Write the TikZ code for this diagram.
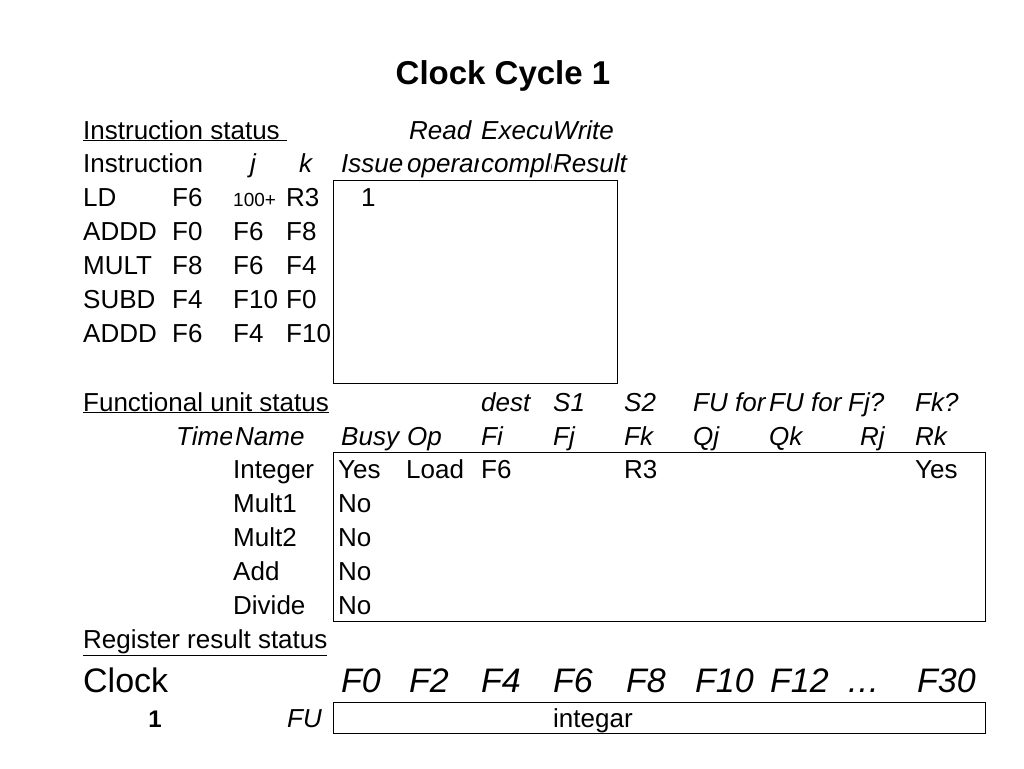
\documentclass[tikz,border=0pt]{standalone}
\usepackage{fontspec}
\setmainfont{Liberation Sans}
\begin{document}
\begin{tikzpicture}[x=1pt,y=-1pt,
  t/.style={anchor=base west,inner sep=0pt,font=\fontsize{26}{30}\selectfont},
  ti/.style={t,font=\fontsize{26}{30}\selectfont\itshape},
  big/.style={anchor=base west,inner sep=0pt,font=\fontsize{34}{40}\selectfont},
  bigi/.style={big,font=\fontsize{34}{40}\selectfont\itshape},
  box/.style={draw,line width=0.8pt}]
\useasboundingbox (0,0) rectangle (1024,768);
\node[inner sep=0pt,font=\fontsize{33}{38}\selectfont\bfseries] (title) at (503,76) {Clock Cycle 1};
% instruction status
\node[t] (is) at (83,139) {\underline{Instruction status\ }};
\node[ti] (rd) at (409,139) {Read};
\begin{scope}\clip (478,110) rectangle (551,180);
\node[ti] (ex) at (481,139) {Execution};
\node[ti] (cp) at (481,172) {complete};
\end{scope}
\node[ti] (wr) at (553,139) {Write};
\node[t] (ins) at (83,172) {Instruction};
\node[ti] (jh) at (250,172) {j};
\node[ti] (kh) at (299,172) {k};
\node[ti] (iss) at (341,172) {Issue};
\begin{scope}\clip (405,145) rectangle (478,180);
\node[ti] (op) at (407,172) {operands};
\end{scope}
\node[ti] (res) at (553,172) {Result};
\draw[box] (333,180) rectangle (617,383);
\foreach \y/\a/\b/\c/\d in {206/LD/F6/{}/R3,240/ADDD/F0/F6/F8,274/MULT/F8/F6/F4,308/SUBD/F4/F10/F0,342/ADDD/F6/F4/F10}{
  \node[t] at (83,\y) {\a};
  \node[t] at (172,\y) {\b};
  \node[t] at (233,\y) {\c};
  \node[t] at (286,\y) {\d};
}
\node[t,font=\fontsize{19}{22}\selectfont] (hp) at (233,206) {100+};
\node[t] (one) at (361,206) {1};
% functional unit status
\node[t] (fus) at (83,411) {\underline{Functional unit status}};
\foreach \x/\s in {481/dest,553/S1,624/S2,848/Fj?,915/Fk?}{\node[ti] at (\x,411) {\s};}
\begin{scope}\clip (690,385) rectangle (765,420);\node[ti] at (693,411) {FU for j};\end{scope}
\begin{scope}\clip (767,385) rectangle (846,420);\node[ti] at (769,411) {FU for k};\end{scope}
\begin{scope}\clip (160,420) rectangle (231,452);\node[ti] at (176,445) {Time};\end{scope}
\node[ti] at (235,445) {Name};
\foreach \x/\s in {341/Busy,407/Op,481/Fi,553/Fj,624/Fk,693/Qj,769/Qk,860/Rj,915/Rk}{\node[ti] at (\x,445) {\s};}
\draw[box] (333,452) rectangle (985,621);
\foreach \y/\n/\b in {478/Integer/Yes,512/Mult1/No,546/Mult2/No,580/Add/No,614/Divide/No}{
  \node[t] at (233,\y) {\n};
  \node[t] at (338,\y) {\b};
}
\node[t] at (406,478) {Load};
\node[t] at (481,478) {F6};
\node[t] at (624,478) {R3};
\node[t] at (915,478) {Yes};
% register result status
\node[t] (rrs) at (83,648) {\underline{Register result status}};
\node[big] (clk) at (83,692) {Clock};
\foreach \x/\s in {341/F0,409/F2,481/F4,553/F6,626/F8,695/F10,770/F12,917/F30}{\node[bigi] at (\x,692) {\s};}
\node[bigi] (dots) at (848,692) {.\kern1pt.\kern1pt.};
\node[anchor=base,inner sep=0pt,font=\fontsize{24}{28}\selectfont\bfseries] (cn) at (155,727) {1};
\node[ti,anchor=base east] (fu) at (322,727) {FU};
\draw[box] (333,702) rectangle (985,733);
\node[t] (ig) at (553,727) {integar};
\end{tikzpicture}
\end{document}
